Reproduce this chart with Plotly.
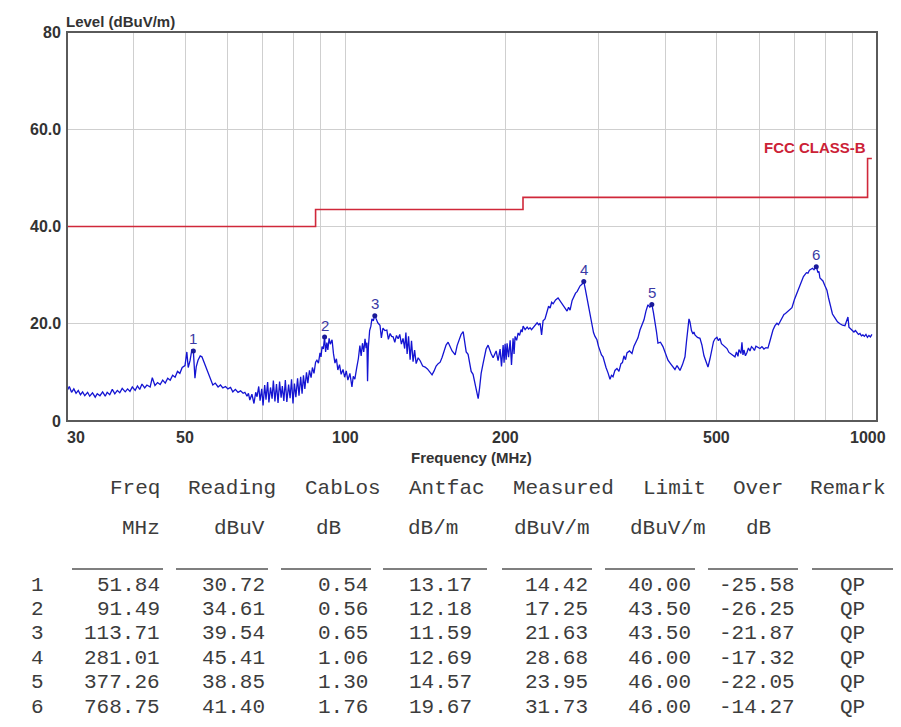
import math
import plotly.graph_objects as go

# ---------------- data ----------------
trace_freq = [
    30.0, 30.3, 30.6, 30.9, 31.2, 31.5, 31.8, 32.1, 32.4, 32.8, 33.1, 33.5, 33.9, 34.2, 34.6, 35.0,
    35.4, 35.7, 36.1, 36.5, 36.9, 37.3, 37.7, 38.1, 38.6, 39.0, 39.4, 39.8, 40.3, 40.7, 41.1, 41.5,
    42.0, 42.4, 43.0, 43.4, 43.9, 44.4, 44.9, 45.4, 45.9, 46.4, 46.9, 47.4, 47.9, 48.4, 48.9, 49.4,
    50.0, 50.4, 50.7, 51.1, 51.5, 51.84, 52.2, 52.5, 52.9, 53.4, 53.8, 54.4, 55.0, 55.7, 56.4, 57.0,
    57.7, 58.3, 58.9, 59.6, 60.2, 60.9, 61.5, 62.2, 62.9, 63.6, 64.3, 64.8, 65.4, 65.8, 66.2, 66.8,
    67.4, 67.9, 68.3, 68.8, 69.2, 69.7, 70.1, 70.6, 71.0, 71.5, 71.9, 72.4, 72.9, 73.3, 73.8, 74.3,
    74.8, 75.3, 75.8, 76.2, 76.7, 77.2, 77.7, 78.3, 78.8, 79.3, 79.8, 80.3, 80.8, 81.4, 81.9, 82.5,
    83.0, 83.5, 84.0, 84.6, 85.1, 85.7, 86.3, 86.8, 87.4, 88.0, 88.5, 89.1, 89.7, 90.1, 90.5, 91.0,
    91.49, 91.9, 92.4, 92.8, 93.3, 93.8, 94.5, 95.1, 95.7, 96.3, 96.9, 97.6, 98.3, 99.1, 99.8, 100.5,
    101.2, 102.1, 103.0, 103.6, 104.3, 105.2, 105.9, 106.6, 107.2, 107.8, 108.4, 109.0, 109.5, 109.9,
    110.2, 110.6, 111.2, 111.8, 112.3, 113.0, 113.71, 114.4, 115.2, 116.3, 117.0, 117.8, 118.8, 119.8,
    120.6, 121.5, 122.3, 123.1, 124.0, 124.9, 125.8, 126.7, 127.6, 128.5, 129.4, 130.1, 130.8, 131.6,
    132.5, 133.3, 134.2, 135.1, 136.0, 137.2, 138.4, 139.9, 141.4, 142.8, 144.3, 145.7, 147.0, 148.3,
    149.6, 150.9, 152.2, 153.5, 154.8, 156.2, 157.5, 158.9, 160.0, 161.0, 162.4, 163.8, 165.2, 166.7,
    167.8, 168.9, 170.3, 171.4, 172.6, 174.0, 175.2, 176.3, 177.1, 177.9, 179.0, 180.2, 181.7, 183.0,
    184.1, 185.7, 186.9, 188.1, 189.8, 191.0, 192.3, 193.9, 195.6, 196.8, 198.2, 199.0, 199.9, 200.8,
    201.6, 202.9, 204.3, 205.5, 206.9, 207.8, 208.7, 210.1, 211.5, 212.8, 214.2, 215.2, 216.1, 218.0,
    219.9, 221.3, 222.7, 224.1, 225.6, 227.6, 229.6, 231.1, 232.6, 234.1, 235.6, 237.6, 239.7, 241.3,
    242.9, 244.5, 246.1, 248.7, 251.4, 254.2, 256.9, 259.2, 261.4, 263.1, 264.8, 267.2, 269.5, 271.2,
    273.0, 274.8, 276.6, 278.8, 281.0, 283.0, 285.0, 286.8, 288.7, 291.2, 293.1, 295.0, 297.5, 299.4,
    301.4, 303.4, 305.4, 307.4, 309.4, 312.1, 314.8, 316.8, 318.9, 321.6, 324.4, 327.2, 330.1, 332.2,
    334.4, 336.6, 338.8, 342.5, 346.2, 349.2, 352.3, 355.3, 358.4, 361.5, 364.7, 367.8, 371.0, 374.1,
    377.3, 379.8, 382.4, 384.9, 387.4, 391.6, 395.9, 400.2, 404.6, 409.0, 413.4, 417.0, 420.7, 423.5,
    426.2, 430.8, 435.5, 438.4, 441.2, 443.1, 445.0, 447.9, 450.8, 452.7, 454.7, 459.7, 464.7, 468.7,
    472.8, 476.9, 481.1, 485.3, 489.5, 492.7, 495.9, 500.1, 503.4, 506.7, 510.0, 513.3, 517.8, 522.3,
    526.8, 531.4, 536.0, 540.7, 544.2, 547.8, 550.1, 552.5, 554.9, 557.3, 559.7, 562.2, 565.8, 569.5,
    573.2, 577.0, 580.8, 584.5, 588.3, 592.1, 597.3, 602.5, 607.7, 613.0, 618.3, 623.7, 628.2, 632.8,
    637.4, 643.0, 648.5, 652.7, 657.0, 662.7, 668.4, 672.8, 677.2, 684.6, 692.0, 699.5, 707.1, 714.8,
    722.6, 727.3, 732.0, 736.8, 741.6, 746.4, 751.3, 756.3, 761.3, 768.75, 774.4, 777.7, 781.1, 786.2,
    791.3, 798.2, 805.1, 810.4, 815.7, 824.6, 833.5, 842.6, 851.8, 861.1, 870.4, 876.1, 881.8, 885.6,
    889.5, 897.2, 905.0, 910.9, 916.8, 922.8, 928.8, 934.8, 940.9, 947.0, 953.2, 959.4, 965.7, 972.0,
    978.3,
]
trace_level = [
    6.2, 7.1, 5.9, 6.6, 5.7, 6.3, 5.4, 6.0, 5.2, 5.9, 5.1, 5.8, 4.9, 5.6, 5.2, 6.0,
    5.1, 5.9, 5.4, 6.5, 5.6, 6.3, 5.8, 6.7, 6.0, 6.6, 6.1, 7.0, 6.3, 7.2, 6.5, 7.6,
    6.8, 7.4, 7.0, 8.9, 7.3, 7.9, 7.5, 8.4, 7.8, 8.8, 8.4, 9.4, 9.0, 10.2, 9.8, 11.0,
    11.4, 14.2, 11.0, 12.4, 14.6, 14.4, 8.8, 11.2, 12.5, 13.4, 13.2, 11.8, 10.5, 8.9, 7.4, 7.8,
    7.0, 7.4, 6.8, 7.1, 6.6, 6.9, 6.0, 6.5, 5.9, 6.2, 5.7, 5.9, 5.1, 5.7, 4.3, 5.5,
    3.6, 5.9, 5.0, 7.1, 4.2, 6.6, 3.2, 7.4, 4.4, 8.0, 3.8, 6.9, 4.6, 8.3, 4.0, 7.6,
    3.7, 8.1, 4.8, 7.2, 4.1, 8.4, 3.9, 7.5, 4.7, 8.6, 3.6, 7.7, 4.9, 8.8, 5.2, 9.1,
    5.6, 9.4, 6.6, 10.0, 7.8, 10.4, 8.9, 11.0, 9.8, 12.1, 12.5, 11.9, 14.0, 13.2, 15.3, 14.8,
    17.3, 14.2, 16.1, 14.6, 17.0, 15.8, 16.7, 13.8, 11.9, 12.8, 10.5, 11.6, 9.6, 10.6, 9.0, 10.3,
    8.4, 9.8, 7.0, 9.2, 8.6, 11.1, 12.8, 15.5, 13.4, 16.0, 14.2, 16.9, 15.0, 16.1,
    8.2, 15.3, 18.6, 19.5, 21.0, 20.6, 21.8, 21.0, 20.2, 19.7, 17.1, 19.1, 18.6, 18.7,
    16.8, 18.0, 17.4, 17.3, 16.2, 17.6, 16.9, 17.8, 15.8, 17.0, 14.9, 18.2, 13.8, 17.4,
    12.6, 16.5, 12.2, 14.6, 11.8, 13.0, 12.4, 11.3, 11.1, 10.7, 10.1, 9.5, 10.3, 11.3,
    11.8, 12.1, 13.1, 14.4, 15.6, 16.2, 15.2, 14.4, 14.0, 13.6, 15.5, 16.8, 17.8, 18.4,
    16.6, 14.2, 13.7, 11.6, 10.2, 9.6, 7.8, 6.6, 5.4, 4.6, 6.8, 9.8, 11.8, 13.8,
    14.8, 15.6, 14.6, 13.9, 13.0, 13.8, 14.4, 12.4, 14.8, 11.2, 15.6, 12.0, 15.9, 12.6,
    16.0, 13.1, 16.6, 11.5, 17.0, 13.8, 17.4, 16.6, 18.1, 17.6, 18.8, 18.3, 19.5, 18.8,
    19.3, 18.9, 19.2, 18.8, 19.2, 19.6, 20.2, 19.8, 20.1, 17.7, 20.6, 21.0, 22.8, 23.6,
    23.2, 24.4, 24.1, 24.9, 25.3, 24.5, 23.9, 23.0, 22.6, 23.4, 22.8, 24.8, 25.8, 26.3,
    26.6, 27.4, 27.8, 28.1, 28.7, 27.0, 25.3, 23.4, 21.8, 20.1, 18.2, 17.4, 16.7, 15.4,
    14.4, 13.6, 13.2, 11.8, 11.0, 9.9, 8.6, 9.4, 9.1, 10.4, 10.8, 10.2, 11.8, 12.0,
    13.4, 12.6, 14.0, 14.4, 13.9, 15.4, 16.2, 17.1, 18.7, 19.6, 20.8, 22.6, 23.9, 23.4,
    24.0, 22.4, 20.6, 18.4, 16.0, 16.2, 15.3, 13.8, 12.5, 11.8, 11.1, 10.6, 11.4, 10.9,
    10.4, 11.6, 13.2, 16.4, 19.6, 21.0, 20.4, 18.6, 17.9, 18.3, 17.7, 17.2, 17.0, 15.6,
    13.4, 12.2, 11.1, 12.8, 15.2, 16.3, 16.9, 17.2, 16.5, 17.0, 15.9, 15.6, 15.1, 14.9,
    14.1, 13.8, 13.4, 13.2, 14.2, 13.3, 14.7, 14.3, 13.9, 16.2, 13.6, 14.6, 13.4, 14.1,
    15.0, 14.4, 15.3, 15.0, 14.5, 15.4, 15.1, 14.9, 15.3, 14.8, 15.1, 15.0, 16.2, 17.8,
    18.7, 19.6, 20.1, 19.8, 20.4, 21.2, 21.9, 22.1, 22.4, 22.9, 23.3, 25.0, 26.3, 27.6,
    29.0, 29.7, 30.1, 30.5, 30.4, 31.0, 31.2, 31.4, 31.1, 31.8, 30.5, 30.8, 29.4, 29.0,
    28.8, 27.8, 26.9, 25.4, 24.3, 22.0, 21.2, 20.4, 20.0, 19.7, 19.6, 20.7, 21.4, 19.3,
    19.1, 18.6, 18.3, 18.6, 18.1, 17.8, 18.0, 17.5, 17.7, 17.4, 17.8, 17.2, 17.6, 17.3,
    17.8,
]

limit_freq = [30, 88, 88, 216, 216, 960, 960, 978]
limit_level = [40, 40, 43.5, 43.5, 46, 46, 54, 54]
limit_name = "FCC CLASS-B"

peak_no = ["1", "2", "3", "4", "5", "6"]
peak_freq = [51.84, 91.49, 113.71, 281.01, 377.26, 768.75]
reading = [30.72, 34.61, 39.54, 45.41, 38.85, 41.40]
cablos = [0.54, 0.56, 0.65, 1.06, 1.30, 1.76]
antfac = [13.17, 12.18, 11.59, 12.69, 14.57, 19.67]
measured = [14.42, 17.25, 21.63, 28.68, 23.95, 31.73]
limit_val = [40.00, 43.50, 43.50, 46.00, 46.00, 46.00]
over = [-25.58, -26.25, -21.87, -17.32, -22.05, -14.27]
remark = ["QP", "QP", "QP", "QP", "QP", "QP"]

col_headers = ["Freq", "Reading", "CabLos", "Antfac", "Measured", "Limit", "Over", "Remark"]
col_units = ["MHz", "dBuV", "dB", "dB/m", "dBuV/m", "dBuV/m", "dB", ""]

x_tick_vals = [30, 50, 100, 200, 500, 1000]
x_tick_text = ["30", "50", "100", "200", "500", "1000"]
y_tick_vals = [0, 20, 40, 60, 80]
y_tick_text = ["0", "20.0", "40.0", "60.0", "80"]
x_title = "Frequency (MHz)"
y_title = "Level (dBuV/m)"

# ---------------- layout geometry (page pixels) ----------------
OFF = 8                     # default body margin of the html page
FIG_W, FIG_H = 885, 711
L, R, T, B = 67, 877, 32, 421   # plot area in page pixels


def px(x):
    return (x - L) / (R - L)


def py(y):
    return (B - y) / (B - T)


AX_FONT = "Liberation Sans, Arial, sans-serif"
MONO = "Liberation Mono, Courier New, monospace"
TXT = "#333333"
TAB = "#3c3c3c"

fig = go.Figure()

fig.add_trace(go.Scatter(
    x=limit_freq, y=limit_level, mode="lines",
    line=dict(color="#d0283a", width=1.6), hoverinfo="skip"))

fig.add_trace(go.Scatter(
    x=trace_freq, y=trace_level, mode="lines",
    line=dict(color="#1414d2", width=1.3), hoverinfo="skip"))

fig.add_trace(go.Scatter(
    x=peak_freq, y=measured, mode="markers",
    marker=dict(color="#1a1a9a", size=5), hoverinfo="skip"))

grid_vals = [d * m for m in (10, 100) for d in range(1, 10) if 30 < d * m < 1000]

fig.update_xaxes(
    type="log", range=[math.log10(30), math.log10(1000)],
    tickvals=grid_vals, showticklabels=False,
    showgrid=True, gridcolor="#cfcfcf", gridwidth=1,
    zeroline=False, showline=False, ticks="")
fig.update_yaxes(
    range=[0, 80], tickvals=y_tick_vals, showticklabels=False,
    showgrid=True, gridcolor="#cfcfcf", gridwidth=1,
    zeroline=False, showline=False, ticks="")

annotations = []
shapes = []

# plot frame
shapes.append(dict(type="rect", xref="paper", yref="paper", x0=0, x1=1, y0=0, y1=1,
                   line=dict(color="#5a5a5a", width=2)))

# y tick labels
for v, t in zip(y_tick_vals, y_tick_text):
    annotations.append(dict(xref="paper", yref="y", x=px(63), y=v, text=t,
                            xanchor="right", yanchor="middle", showarrow=False,
                            font=dict(family=AX_FONT, size=16, color=TXT, weight="bold")))

# x tick labels
for i, (v, t) in enumerate(zip(x_tick_vals, x_tick_text)):
    shift = 0
    if i == 0:
        shift = 9
    elif i == len(x_tick_vals) - 1:
        shift = -9
    annotations.append(dict(xref="x", yref="paper", x=math.log10(v), y=py(437), text=t,
                            xanchor="center", yanchor="middle", xshift=shift, showarrow=False,
                            font=dict(family=AX_FONT, size=16, color=TXT, weight="bold")))

# axis titles
annotations.append(dict(xref="paper", yref="paper", x=px(64), y=py(21), text=y_title,
                        xanchor="left", yanchor="middle", showarrow=False,
                        font=dict(family=AX_FONT, size=15, color=TXT, weight="bold")))
annotations.append(dict(xref="paper", yref="paper", x=px(471), y=py(457), text=x_title,
                        xanchor="center", yanchor="middle", showarrow=False,
                        font=dict(family=AX_FONT, size=15, color=TXT, weight="bold")))

# limit label
annotations.append(dict(xref="paper", yref="paper", x=px(868), y=py(147), text=limit_name,
                        xanchor="right", yanchor="middle", showarrow=False,
                        font=dict(family=AX_FONT, size=15, color="#cc2236", weight="bold")))

# peak numbers
for n, f, m in zip(peak_no, peak_freq, measured):
    annotations.append(dict(xref="x", yref="y", x=math.log10(f), y=m, text=n,
                            xanchor="center", yanchor="middle", yshift=12, showarrow=False,
                            font=dict(family=AX_FONT, size=15, color="#3a3aa6")))

# ---------------- table ----------------
header_right = [162, 278, 383, 487, 616, 708, 785, 888]
units_right = [162, 267, 343, 460, 592, 708, 773, 888]
data_right = [162, 267, 370, 474, 590, 693, 797]
remark_center = 852
underline = [(72, 163), (176, 268), (281, 371), (383, 487), (502, 592), (605, 695), (708, 798), (812, 900)]
row_y0, row_dy = 585, 24.4


def tab_text(x, y, text, anchor="right"):
    annotations.append(dict(xref="paper", yref="paper", x=px(x), y=py(y), text=text,
                            xanchor=anchor, yanchor="middle", showarrow=False,
                            font=dict(family=MONO, size=21, color=TAB)))


for h, xr in zip(col_headers, header_right):
    tab_text(xr, 488, h)
for u, xr in zip(col_units, units_right):
    if u:
        tab_text(xr, 528, u)
for x0, x1 in underline:
    shapes.append(dict(type="line", xref="paper", yref="paper", x0=px(x0), x1=px(x1),
                       y0=py(569), y1=py(569), line=dict(color="#555555", width=1.5)))

columns = [peak_freq, reading, cablos, antfac, measured, limit_val, over]
for r in range(len(peak_no)):
    y = row_y0 + r * row_dy
    tab_text(37, y, peak_no[r], anchor="center")
    for col, xr in zip(columns, data_right):
        tab_text(xr, y, f"{col[r]:.2f}")
    tab_text(remark_center, y, remark[r], anchor="center")

fig.update_layout(
    width=FIG_W, height=FIG_H,
    margin=dict(l=L - OFF, r=FIG_W + OFF - R, t=T - OFF, b=FIG_H + OFF - B, pad=0),
    plot_bgcolor="white", paper_bgcolor="white",
    showlegend=False,
    annotations=annotations, shapes=shapes,
)

fig.write_html("out.html")
